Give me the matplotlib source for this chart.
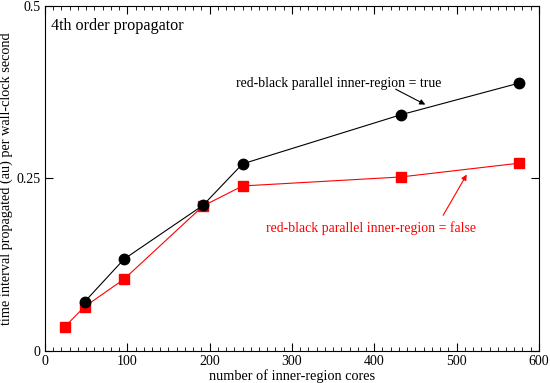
import matplotlib
matplotlib.use("Agg")
from matplotlib import pyplot as plt
from matplotlib.ticker import MultipleLocator, FuncFormatter

plt.rcParams['font.family'] = ['Liberation Serif', 'DejaVu Serif']

cores_true = [48, 96, 192, 240, 432, 576]
rate_true = [0.071, 0.133, 0.211, 0.271, 0.342, 0.388]

cores_false = [24, 48, 96, 192, 240, 432, 576]
rate_false = [0.035, 0.064, 0.104, 0.210, 0.239, 0.252, 0.272]

fig = plt.figure(figsize=(5.5, 3.83), dpi=100)
ax = fig.add_axes([0.0818, 0.0836, 0.898, 0.9014])

ax.plot(cores_false, rate_false, color='red', lw=0.8, marker='s', ms=7, mec='red', mfc='red')
ax.plot(cores_true, rate_true, color='black', lw=0.8, marker='o', ms=7.5, mec='black', mfc='black')

ax.set_xlim(0, 600)
ax.set_ylim(0, 0.5)
ax.xaxis.set_major_locator(MultipleLocator(100))
ax.xaxis.set_minor_locator(MultipleLocator(10))
ax.yaxis.set_major_locator(MultipleLocator(0.25))
ax.yaxis.set_major_formatter(FuncFormatter(lambda v, p: '%g' % v))
ax.tick_params(which='both', direction='in', top=True, right=True, labelsize=10, pad=3)
ax.tick_params(which='major', length=6, width=0.8)
ax.tick_params(which='minor', length=3, width=0.6)
for s in ax.spines.values():
    s.set_linewidth(0.8)

ax.set_xlabel("number of inner-region cores", fontsize=10.3, labelpad=1)
ax.set_ylabel("time interval propagated (au) per wall-clock second", fontsize=10.3, labelpad=3)

ax.text(0.012, 0.965, "4th order propagator", transform=ax.transAxes, fontsize=11.6, va='top', ha='left')

ax.text(357, 0.388, "red-black parallel inner-region = true", fontsize=9.9, ha='center', va='center')
ax.annotate('', xy=(465, 0.355), xytext=(423, 0.381),
            arrowprops=dict(arrowstyle='-|>', color='black', lw=0.8, mutation_scale=8))

ax.text(396, 0.178, "red-black parallel inner-region = false", fontsize=9.9, ha='center', va='center', color='red')
ax.annotate('', xy=(514, 0.259), xytext=(482, 0.193),
            arrowprops=dict(arrowstyle='-|>', color='red', lw=0.8, mutation_scale=8))

fig.savefig("out.png", dpi=100)
